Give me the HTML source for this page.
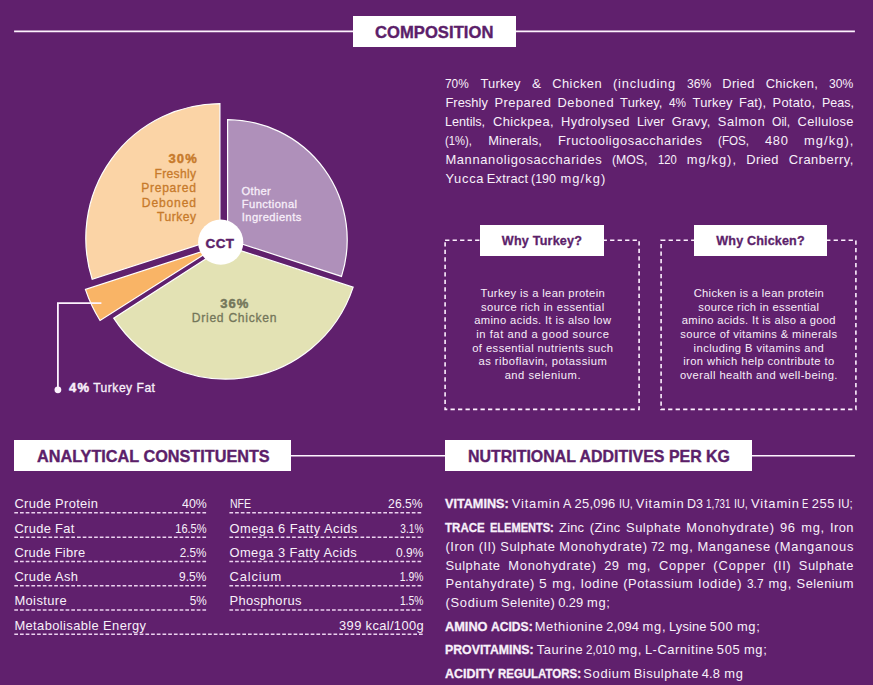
<!DOCTYPE html>
<html lang="en">
<head>
<meta charset="utf-8">
<title>Composition</title>
<style>
html,body{margin:0;padding:0;background:#60206d;}
body{width:873px;height:685px;overflow:hidden;position:relative;font-family:"Liberation Sans",sans-serif;color:#f8f0fa;}
#page{position:absolute;left:0;top:0;width:873px;height:685px;overflow:hidden;background:#60206d;}
.t{position:absolute;white-space:nowrap;margin:0;padding:0;}
.h{-webkit-text-stroke:0.4px #5c1f6a;}
.hbox{position:absolute;background:#fff;}
.ln{position:absolute;height:17px;font-size:12.9px;line-height:17px;white-space:pre;}
.w{position:absolute;top:0;transform-origin:0 50%;}
.b{font-weight:700;-webkit-text-stroke:0.3px currentColor;}
svg{position:absolute;left:0;top:0;}
</style>
</head>
<body>
<div id="page">

<header>
<svg width="873" height="685" viewBox="0 0 873 685"><path d="M14.1 31.4H854.9M14.1 455.8H854.9" fill="none" stroke="#fdf3fe" stroke-width="1.6"/></svg>
<div class="hbox" style="left:352.6px;top:15.8px;width:163.2px;height:30.9px"></div>
<div class="hbox" style="left:13.8px;top:440.1px;width:277.5px;height:30.7px"></div>
<div class="hbox" style="left:445.2px;top:440.1px;width:307px;height:30.7px"></div>
<div class="t h" style="left:374.90px;top:22.00px;font-size:16.6px;line-height:22px;letter-spacing:0.058px;color:#5c1f6a;font-weight:700;">COMPOSITION</div>
<div class="t h" style="left:36.50px;top:446.00px;font-size:16.6px;line-height:22px;color:#5c1f6a;font-weight:700;transform:scaleX(0.9783);transform-origin:0 50%;">ANALYTICAL CONSTITUENTS</div>
<div class="t h" style="left:467.60px;top:446.00px;font-size:16.6px;line-height:22px;color:#5c1f6a;font-weight:700;transform:scaleX(0.9601);transform-origin:0 50%;">NUTRITIONAL ADDITIVES PER KG</div>
</header>
<section id="chart">
<svg width="873" height="685" viewBox="0 0 873 685">
<path d="M219.90 237.86L92.21 279.35A134.70 134.70 0 0 1 219.90 103.60Z" fill="#fbd4a6" stroke="#fff" stroke-width="1.2" stroke-linejoin="miter"/>
<path d="M227.60 239.36L227.60 119.60A120.20 120.20 0 0 1 341.50 276.37Z" fill="#af90ba" stroke="#fff" stroke-width="1.2" stroke-linejoin="miter"/>
<path d="M226.09 245.86L353.16 287.15A133.90 133.90 0 0 1 113.71 318.14Z" fill="#e3e2b4" stroke="#fff" stroke-width="1.2" stroke-linejoin="miter"/>
<path d="M215.77 247.04L100.05 320.47A141.80 141.80 0 0 1 85.43 289.39Z" fill="#f9b466" stroke="#fff" stroke-width="1.2" stroke-linejoin="miter"/>
<path d="M101.4 303.1H57.9V389" fill="none" stroke="#fdf3fe" stroke-width="1.8"/>
<circle cx="57.9" cy="389.8" r="3.4" fill="#fdf3fe"/>
<circle cx="220.7" cy="242.2" r="22.6" fill="#fff"/>
</svg>
<div class="t" style="left:168.50px;top:150.00px;font-size:13.0px;line-height:17px;letter-spacing:1.084px;color:#c77a2b;font-weight:700;-webkit-text-stroke:0.45px currentColor;">30%</div>
<div class="t" style="left:154.50px;top:166.00px;font-size:12.1px;line-height:16px;letter-spacing:0.307px;color:#c77a2b;-webkit-text-stroke:0.3px currentColor;">Freshly</div>
<div class="t" style="left:141.20px;top:180.00px;font-size:12.1px;line-height:16px;letter-spacing:0.719px;color:#c77a2b;-webkit-text-stroke:0.3px currentColor;">Prepared</div>
<div class="t" style="left:141.80px;top:195.00px;font-size:12.1px;line-height:16px;letter-spacing:0.851px;color:#c77a2b;-webkit-text-stroke:0.3px currentColor;">Deboned</div>
<div class="t" style="left:157.00px;top:209.00px;font-size:12.1px;line-height:16px;letter-spacing:0.497px;color:#c77a2b;-webkit-text-stroke:0.3px currentColor;">Turkey</div>
<div class="t" style="left:241.60px;top:184.00px;font-size:11.2px;line-height:15px;letter-spacing:0.304px;color:#f7eef9;-webkit-text-stroke:0.3px currentColor;">Other</div>
<div class="t" style="left:241.80px;top:197.00px;font-size:11.2px;line-height:15px;letter-spacing:0.397px;color:#f7eef9;-webkit-text-stroke:0.3px currentColor;">Functional</div>
<div class="t" style="left:241.80px;top:210.00px;font-size:11.2px;line-height:15px;letter-spacing:0.414px;color:#f7eef9;-webkit-text-stroke:0.3px currentColor;">Ingredients</div>
<div class="t" style="left:220.30px;top:295.00px;font-size:13.0px;line-height:17px;letter-spacing:0.984px;color:#74765a;font-weight:700;-webkit-text-stroke:0.45px currentColor;">36%</div>
<div class="t" style="left:191.75px;top:310.00px;font-size:12.1px;line-height:16px;letter-spacing:0.729px;color:#74765a;-webkit-text-stroke:0.3px currentColor;">Dried Chicken</div>
<div class="t" style="left:205.60px;top:235.00px;font-size:13.4px;line-height:17px;letter-spacing:0.434px;color:#5c1f6a;font-weight:700;-webkit-text-stroke:0.45px currentColor;">CCT</div>
<div class="t" style="left:69.00px;top:379.00px;font-size:13.0px;line-height:17px;letter-spacing:1.303px;font-weight:700;-webkit-text-stroke:0.45px currentColor;">4%</div>
<div class="t" style="left:93.20px;top:380.00px;font-size:12.1px;line-height:16px;letter-spacing:0.493px;-webkit-text-stroke:0.3px currentColor;">Turkey Fat</div>
</section>
<section id="composition">
<div class="ln" style="left:445.4px;top:75.00px;width:408.0px"><span class="w" style="left:0.00px;transform:scaleX(0.9189);">70% </span><span class="w" style="left:35.07px;letter-spacing:0.194px;">Turkey </span><span class="w" style="left:86.31px;transform:scaleX(1.0544);">&amp; </span><span class="w" style="left:106.74px;letter-spacing:0.497px;">Chicken </span><span class="w" style="left:167.66px;letter-spacing:0.780px;">(including </span><span class="w" style="left:241.21px;transform:scaleX(0.9425);">36% </span><span class="w" style="left:276.89px;letter-spacing:0.340px;">Dried </span><span class="w" style="left:320.41px;letter-spacing:0.261px;">Chicken, </span><span class="w" style="left:383.75px;transform:scaleX(0.9395);">30%</span></div>
<div class="ln" style="left:445.4px;top:94.00px;width:408.0px"><span class="w" style="left:0.00px;letter-spacing:0.047px;">Freshly </span><span class="w" style="left:49.10px;letter-spacing:0.473px;">Prepared </span><span class="w" style="left:112.00px;letter-spacing:0.641px;">Deboned </span><span class="w" style="left:174.73px;letter-spacing:0.130px;">Turkey, </span><span class="w" style="left:223.62px;transform:scaleX(0.9137);">4% </span><span class="w" style="left:247.21px;letter-spacing:0.194px;">Turkey </span><span class="w" style="left:293.65px;letter-spacing:0.109px;">Fat), </span><span class="w" style="left:327.15px;letter-spacing:0.266px;">Potato, </span><span class="w" style="left:376.16px;transform:scaleX(0.9659);">Peas,</span></div>
<div class="ln" style="left:445.4px;top:113.00px;width:408.0px"><span class="w" style="left:0.00px;transform:scaleX(0.9816);">Lentils, </span><span class="w" style="left:47.53px;letter-spacing:0.424px;">Chickpea, </span><span class="w" style="left:115.68px;letter-spacing:0.429px;">Hydrolysed </span><span class="w" style="left:191.46px;transform:scaleX(0.9799);">Liver </span><span class="w" style="left:226.28px;letter-spacing:0.322px;">Gravy, </span><span class="w" style="left:272.34px;letter-spacing:0.625px;">Salmon </span><span class="w" style="left:326.61px;transform:scaleX(0.9362);">Oil, </span><span class="w" style="left:352.16px;letter-spacing:0.352px;">Cellulose</span></div>
<div class="ln" style="left:445.4px;top:132.00px;width:408.0px"><span class="w" style="left:0.00px;transform:scaleX(0.8702);">(1%), </span><span class="w" style="left:42.78px;letter-spacing:0.182px;">Minerals, </span><span class="w" style="left:112.50px;letter-spacing:0.545px;">Fructooligosaccharides </span><span class="w" style="left:272.48px;transform:scaleX(0.9027);">(FOS, </span><span class="w" style="left:319.61px;letter-spacing:0.700px;">480 </span><span class="w" style="left:358.62px;letter-spacing:1.065px;">mg/kg),</span></div>
<div class="ln" style="left:445.4px;top:151.00px;width:408.0px"><span class="w" style="left:0.00px;letter-spacing:0.654px;">Mannanoligosaccharides </span><span class="w" style="left:166.63px;transform:scaleX(0.9505);">(MOS, </span><span class="w" style="left:212.32px;transform:scaleX(0.8686);">120 </span><span class="w" style="left:241.30px;letter-spacing:1.065px;">mg/kg), </span><span class="w" style="left:300.96px;letter-spacing:0.340px;">Dried </span><span class="w" style="left:343.42px;letter-spacing:0.516px;">Cranberry,</span></div>
<div class="ln" style="left:445.4px;top:170.00px;width:408.0px"><span class="w" style="left:0.00px;letter-spacing:0.748px;">Yucca </span><span class="w" style="left:41.36px;letter-spacing:0.200px;">Extract </span><span class="w" style="left:85.93px;transform:scaleX(0.9639);">(190 </span><span class="w" style="left:115.02px;letter-spacing:1.100px;">mg/kg)</span></div>
</section>
<section id="why">
<svg width="873" height="685" viewBox="0 0 873 685"><rect x="445.1" y="240.2" width="194.0" height="169.2" fill="none" stroke="#fdf0fe" stroke-width="1.6" stroke-dasharray="4.3 3.2"/></svg>
<svg width="873" height="685" viewBox="0 0 873 685"><rect x="661.1" y="240.2" width="194.79999999999995" height="169.2" fill="none" stroke="#fdf0fe" stroke-width="1.6" stroke-dasharray="4.3 3.2"/></svg>
<div class="hbox" style="left:479.9px;top:225.0px;width:124.2px;height:30.8px"></div>
<div class="hbox" style="left:694.0px;top:225.0px;width:133.0px;height:30.8px"></div>
<div class="t" style="left:501.85px;top:233.00px;font-size:12.6px;line-height:16px;letter-spacing:0.196px;color:#5c1f6a;font-weight:700;-webkit-text-stroke:0.3px currentColor;">Why Turkey?</div>
<div class="t" style="left:716.35px;top:233.00px;font-size:12.6px;line-height:16px;letter-spacing:0.138px;color:#5c1f6a;font-weight:700;-webkit-text-stroke:0.3px currentColor;">Why Chicken?</div>
<div class="t" style="left:480.49px;top:286.00px;font-size:11.2px;line-height:15px;letter-spacing:0.363px;color:#f7eef9;">Turkey is a lean protein</div>
<div class="t" style="left:481.00px;top:300.00px;font-size:11.2px;line-height:15px;letter-spacing:0.409px;color:#f7eef9;">source rich in essential</div>
<div class="t" style="left:474.19px;top:313.00px;font-size:11.2px;line-height:15px;letter-spacing:0.384px;color:#f7eef9;">amino acids. It is also low</div>
<div class="t" style="left:476.24px;top:327.00px;font-size:11.2px;line-height:15px;letter-spacing:0.551px;color:#f7eef9;">in fat and a good source</div>
<div class="t" style="left:472.18px;top:341.00px;font-size:11.2px;line-height:15px;letter-spacing:0.442px;color:#f7eef9;">of essential nutrients such</div>
<div class="t" style="left:478.47px;top:354.00px;font-size:11.2px;line-height:15px;letter-spacing:0.494px;color:#f7eef9;">as riboflavin, potassium</div>
<div class="t" style="left:504.63px;top:368.00px;font-size:11.2px;line-height:15px;letter-spacing:0.523px;color:#f7eef9;">and selenium.</div>
<div class="t" style="left:693.68px;top:286.00px;font-size:11.2px;line-height:15px;letter-spacing:0.314px;color:#f7eef9;">Chicken is a lean protein</div>
<div class="t" style="left:698.34px;top:300.00px;font-size:11.2px;line-height:15px;letter-spacing:0.301px;color:#f7eef9;">source rich in essential</div>
<div class="t" style="left:681.79px;top:313.00px;font-size:11.2px;line-height:15px;letter-spacing:0.329px;color:#f7eef9;">amino acids. It is also a good</div>
<div class="t" style="left:680.33px;top:327.00px;font-size:11.2px;line-height:15px;letter-spacing:0.379px;color:#f7eef9;">source of vitamins &amp; minerals</div>
<div class="t" style="left:693.60px;top:341.00px;font-size:11.2px;line-height:15px;letter-spacing:0.415px;color:#f7eef9;">including B vitamins and</div>
<div class="t" style="left:683.19px;top:354.00px;font-size:11.2px;line-height:15px;letter-spacing:0.418px;color:#f7eef9;">iron which help contribute to</div>
<div class="t" style="left:679.93px;top:368.00px;font-size:11.2px;line-height:15px;letter-spacing:0.435px;color:#f7eef9;">overall health and well-being.</div>
</section>
<section id="analytical">
<svg width="873" height="685" viewBox="0 0 873 685" fill="none" stroke="#ecd2f0" stroke-width="1.5" stroke-dasharray="3.7 2">
<path d="M14.3 512.8H206.8"/><path d="M229.4 512.8H423.2"/>
<path d="M14.3 537.3H206.8"/><path d="M229.4 537.3H423.2"/>
<path d="M14.3 561.5H206.8"/><path d="M229.4 561.5H423.2"/>
<path d="M14.3 585.7H206.8"/><path d="M229.4 585.7H423.2"/>
<path d="M14.3 609.9H206.8"/><path d="M229.4 609.9H423.2"/>
<path d="M14.3 634.2H423.2"/>
</svg>
<div class="t" style="left:14.40px;top:495.00px;font-size:12.9px;line-height:17px;letter-spacing:0.332px;">Crude Protein</div>
<div class="t" style="left:180.89px;top:495.00px;font-size:12.9px;line-height:17px;transform:scaleX(0.9582);transform-origin:100% 50%;">40%</div>
<div class="t" style="left:14.40px;top:520.00px;font-size:12.9px;line-height:17px;letter-spacing:0.336px;">Crude Fat</div>
<div class="t" style="left:170.14px;top:520.00px;font-size:12.9px;line-height:17px;transform:scaleX(0.8564);transform-origin:100% 50%;">16.5%</div>
<div class="t" style="left:14.40px;top:544.00px;font-size:12.9px;line-height:17px;letter-spacing:0.269px;">Crude Fibre</div>
<div class="t" style="left:177.31px;top:544.00px;font-size:12.9px;line-height:17px;transform:scaleX(0.9070);transform-origin:100% 50%;">2.5%</div>
<div class="t" style="left:14.40px;top:568.00px;font-size:12.9px;line-height:17px;letter-spacing:0.424px;">Crude Ash</div>
<div class="t" style="left:177.31px;top:568.00px;font-size:12.9px;line-height:17px;transform:scaleX(0.9298);transform-origin:100% 50%;">9.5%</div>
<div class="t" style="left:14.40px;top:592.00px;font-size:12.9px;line-height:17px;letter-spacing:0.413px;">Moisture</div>
<div class="t" style="left:188.06px;top:592.00px;font-size:12.9px;line-height:17px;transform:scaleX(0.9128);transform-origin:100% 50%;">5%</div>
<div class="t" style="left:229.50px;top:495.00px;font-size:12.9px;line-height:17px;transform:scaleX(0.8183);transform-origin:0 50%;">NFE</div>
<div class="t" style="left:386.44px;top:495.00px;font-size:12.9px;line-height:17px;transform:scaleX(0.9419);transform-origin:100% 50%;">26.5%</div>
<div class="t" style="left:229.50px;top:520.00px;font-size:12.9px;line-height:17px;letter-spacing:0.453px;">Omega 6 Fatty Acids</div>
<div class="t" style="left:393.61px;top:520.00px;font-size:12.9px;line-height:17px;transform:scaleX(0.7842);transform-origin:100% 50%;">3.1%</div>
<div class="t" style="left:229.50px;top:544.00px;font-size:12.9px;line-height:17px;letter-spacing:0.422px;">Omega 3 Fatty Acids</div>
<div class="t" style="left:393.61px;top:544.00px;font-size:12.9px;line-height:17px;transform:scaleX(0.9298);transform-origin:100% 50%;">0.9%</div>
<div class="t" style="left:229.50px;top:568.00px;font-size:12.9px;line-height:17px;letter-spacing:0.862px;">Calcium</div>
<div class="t" style="left:393.61px;top:568.00px;font-size:12.9px;line-height:17px;transform:scaleX(0.8012);transform-origin:100% 50%;">1.9%</div>
<div class="t" style="left:229.50px;top:592.00px;font-size:12.9px;line-height:17px;letter-spacing:0.359px;">Phosphorus</div>
<div class="t" style="left:393.61px;top:592.00px;font-size:12.9px;line-height:17px;transform:scaleX(0.8001);transform-origin:100% 50%;">1.5%</div>
<div class="t" style="left:14.40px;top:617.00px;font-size:12.9px;line-height:17px;letter-spacing:0.397px;">Metabolisable Energy</div>
<div class="t" style="left:339.10px;top:617.00px;font-size:12.9px;line-height:17px;letter-spacing:0.352px;">399 kcal/100g</div>
</section>
<section id="additives">
<div class="ln" style="left:445.4px;top:495.00px;width:408.0px"><span class="w b" style="left:0.00px;transform:scaleX(0.9812);">VITAMINS: </span><span class="w" style="left:66.33px;letter-spacing:0.863px;">Vitamin </span><span class="w" style="left:117.55px;transform:scaleX(0.9693);">A </span><span class="w" style="left:129.17px;letter-spacing:0.256px;">25,096 </span><span class="w" style="left:173.17px;transform:scaleX(0.8396);">IU, </span><span class="w" style="left:190.28px;letter-spacing:0.863px;">Vitamin </span><span class="w" style="left:241.50px;transform:scaleX(0.9724);">D3 </span><span class="w" style="left:260.80px;transform:scaleX(0.7559);">1,731 </span><span class="w" style="left:288.47px;transform:scaleX(0.8396);">IU, </span><span class="w" style="left:305.58px;letter-spacing:0.863px;">Vitamin </span><span class="w" style="left:356.80px;transform:scaleX(0.7370);">E </span><span class="w" style="left:366.42px;letter-spacing:0.563px;">255 </span><span class="w" style="left:392.34px;transform:scaleX(0.8893);">IU;</span></div>
<div class="ln" style="left:445.4px;top:519.00px;width:408.0px"><span class="w b" style="left:0.00px;transform:scaleX(0.8962);">TRACE </span><span class="w b" style="left:44.87px;transform:scaleX(0.8560);">ELEMENTS: </span><span class="w" style="left:113.70px;letter-spacing:0.198px;">Zinc </span><span class="w" style="left:144.38px;letter-spacing:0.469px;">(Zinc </span><span class="w" style="left:180.64px;letter-spacing:0.527px;">Sulphate </span><span class="w" style="left:240.95px;letter-spacing:0.739px;">Monohydrate) </span><span class="w" style="left:334.60px;letter-spacing:0.700px;">96 </span><span class="w" style="left:355.84px;letter-spacing:0.700px;">mg, </span><span class="w" style="left:384.70px;letter-spacing:0.359px;">Iron</span></div>
<div class="ln" style="left:445.4px;top:538.00px;width:408.0px"><span class="w" style="left:0.00px;letter-spacing:0.590px;">(Iron </span><span class="w" style="left:33.31px;letter-spacing:0.479px;">(II) </span><span class="w" style="left:54.92px;letter-spacing:0.527px;">Sulphate </span><span class="w" style="left:113.93px;letter-spacing:0.739px;">Monohydrate) </span><span class="w" style="left:206.04px;transform:scaleX(0.9586);">72 </span><span class="w" style="left:224.45px;letter-spacing:0.700px;">mg, </span><span class="w" style="left:252.01px;letter-spacing:0.672px;">Manganese </span><span class="w" style="left:329.19px;letter-spacing:0.793px;">(Manganous</span></div>
<div class="ln" style="left:445.4px;top:557.00px;width:408.0px"><span class="w" style="left:0.00px;letter-spacing:0.527px;">Sulphate </span><span class="w" style="left:62.88px;letter-spacing:0.739px;">Monohydrate) </span><span class="w" style="left:158.85px;letter-spacing:0.438px;">29 </span><span class="w" style="left:182.16px;letter-spacing:0.700px;">mg, </span><span class="w" style="left:213.59px;letter-spacing:0.762px;">Copper </span><span class="w" style="left:267.98px;letter-spacing:0.846px;">(Copper </span><span class="w" style="left:327.94px;letter-spacing:0.479px;">(II) </span><span class="w" style="left:353.42px;letter-spacing:0.527px;">Sulphate</span></div>
<div class="ln" style="left:445.4px;top:575.00px;width:408.0px"><span class="w" style="left:0.00px;letter-spacing:0.658px;">Pentahydrate) </span><span class="w" style="left:93.94px;transform:scaleX(1.0741);">5 </span><span class="w" style="left:106.94px;letter-spacing:0.700px;">mg, </span><span class="w" style="left:135.14px;letter-spacing:0.503px;">Iodine </span><span class="w" style="left:177.84px;letter-spacing:0.568px;">(Potassium </span><span class="w" style="left:252.50px;letter-spacing:0.706px;">Iodide) </span><span class="w" style="left:301.23px;transform:scaleX(0.9207);">3.7 </span><span class="w" style="left:323.02px;letter-spacing:0.700px;">mg, </span><span class="w" style="left:351.22px;letter-spacing:0.433px;">Selenium</span></div>
<div class="ln" style="left:445.4px;top:594.00px;width:408.0px"><span class="w" style="left:0.00px;letter-spacing:0.729px;">(Sodium </span><span class="w" style="left:55.62px;letter-spacing:0.375px;">Selenite) </span><span class="w" style="left:112.76px;letter-spacing:-0.018px;">0.29 </span><span class="w" style="left:141.67px;letter-spacing:0.700px;">mg;</span></div>
<div class="ln" style="left:445.4px;top:618.00px;width:408.0px"><span class="w b" style="left:0.00px;transform:scaleX(0.9900);">AMINO </span><span class="w b" style="left:45.15px;transform:scaleX(0.9390);">ACIDS: </span><span class="w" style="left:89.45px;letter-spacing:0.557px;">Methionine </span><span class="w" style="left:160.80px;letter-spacing:0.143px;">2,094 </span><span class="w" style="left:197.21px;letter-spacing:0.700px;">mg, </span><span class="w" style="left:223.68px;letter-spacing:0.104px;">Lysine </span><span class="w" style="left:264.43px;letter-spacing:0.700px;">500 </span><span class="w" style="left:291.49px;letter-spacing:0.700px;">mg;</span></div>
<div class="ln" style="left:445.4px;top:641.00px;width:408.0px"><span class="w b" style="left:0.00px;transform:scaleX(0.9547);">PROVITAMINS: </span><span class="w" style="left:91.26px;letter-spacing:0.628px;">Taurine </span><span class="w" style="left:140.57px;transform:scaleX(0.8973);">2,010 </span><span class="w" style="left:173.08px;letter-spacing:0.700px;">mg, </span><span class="w" style="left:199.53px;letter-spacing:0.547px;">L-Carnitine </span><span class="w" style="left:271.48px;letter-spacing:0.700px;">505 </span><span class="w" style="left:298.51px;letter-spacing:0.700px;">mg;</span></div>
<div class="ln" style="left:445.4px;top:665.00px;width:408.0px"><span class="w b" style="left:0.00px;transform:scaleX(0.9644);">ACIDITY </span><span class="w b" style="left:52.35px;transform:scaleX(0.8887);">REGULATORS: </span><span class="w" style="left:137.92px;letter-spacing:0.684px;">Sodium </span><span class="w" style="left:188.33px;letter-spacing:0.502px;">Bisulphate </span><span class="w" style="left:256.32px;letter-spacing:0.111px;">4.8 </span><span class="w" style="left:278.95px;letter-spacing:0.700px;">mg</span></div>
</section>
</div>
</body>
</html>
